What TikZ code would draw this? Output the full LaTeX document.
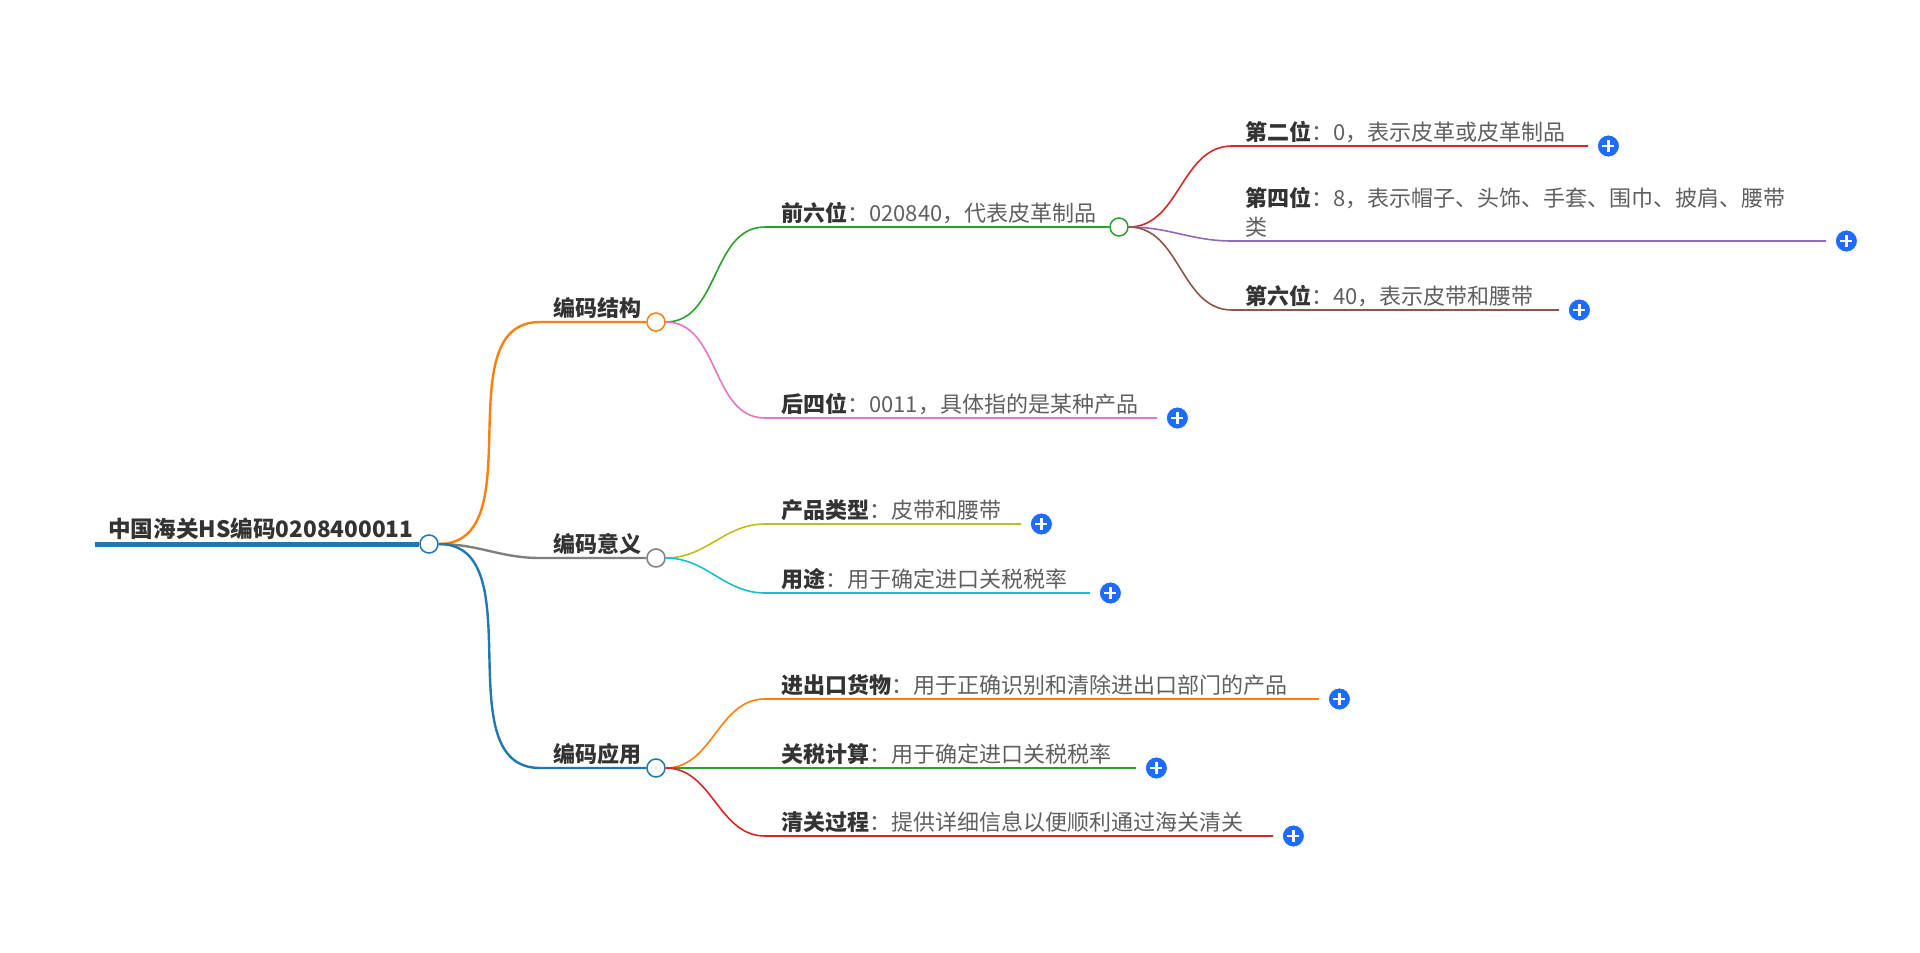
\documentclass[tikz,border=0pt]{standalone}
\usepackage{fontspec}
\setmainfont{Noto Sans CJK SC}
\usepackage{tikz}
\usetikzlibrary{positioning}
\definecolor{tblue}{HTML}{1F77B4}
\definecolor{torange}{HTML}{FF7F0E}
\definecolor{tgreen}{HTML}{2CA02C}
\definecolor{tred}{HTML}{D62728}
\definecolor{tpurple}{HTML}{9467BD}
\definecolor{tbrown}{HTML}{8C564B}
\definecolor{tpink}{HTML}{E377C2}
\definecolor{tgrey}{HTML}{7F7F7F}
\definecolor{tolive}{HTML}{BCBD22}
\definecolor{tcyan}{HTML}{17BECF}
\definecolor{btnblue}{HTML}{1E6BFF}
\definecolor{txtdark}{HTML}{333333}
\definecolor{txtlight}{HTML}{5F5F5F}
\newcommand{\keytxt}[1]{{\bfseries\color{txtdark}#1}}
\tikzset{
  hub/.style={circle, draw=#1, fill=white, line width=1.5pt, minimum size=18pt, inner sep=0pt},
  plusbtn/.style={circle, fill=btnblue, draw=white, line width=0.8pt, minimum size=22pt, inner sep=0pt,
    path picture={\draw[white, line width=2.2pt]
      ([xshift=-6pt]path picture bounding box.center) -- ([xshift=6pt]path picture bounding box.center)
      ([yshift=-6pt]path picture bounding box.center) -- ([yshift=6pt]path picture bounding box.center);}},
  head/.style={font=\fontsize{22}{26}\selectfont\bfseries, text=txtdark, inner sep=0pt, anchor=base west},
  leaf/.style={font=\fontsize{22}{29}\selectfont, text=txtlight, inner sep=0pt, anchor=base west, align=left},
  twig/.style={line width=1.6pt, draw=#1},
}

\begin{document}
\begin{tikzpicture}[x=1pt, y=-1pt]
    \path[use as bounding box] (0,0) rectangle (1920,953);

    % root
    \coordinate (root-in) at (95,544);
    \node[hub=tblue] at (429,544) (root) {};
    \node[head, font=\fontsize{22.6}{27}\selectfont\bfseries] at (108,537) (root-txt) {中国海关HS编码0208400011};
    \draw[line width=5pt, tblue] (root-in) -- (root.west);

    % level 1
    \node[hub=torange] at (656,322) (struct) {};
    \node[hub=tgrey]   at (656,558) (mean) {};
    \node[hub=tblue]   at (656,768) (app) {};
    \coordinate (struct-in) at (540,322);
    \coordinate (mean-in)   at (540,558);
    \coordinate (app-in)    at (540,768);
    \node[head] at (553,316) (struct-txt) {编码结构};
    \node[head] at (553,552) (mean-txt)   {编码意义};
    \node[head] at (553,762) (app-txt)    {编码应用};

    \draw[line width=2.4pt, torange] (root.east) to[out=0, in=180] (struct-in) -- (struct.west);
    \draw[line width=2.4pt, tgrey]   (root.east) to[out=0, in=180] (mean-in) -- (mean.west);
    \draw[line width=2.4pt, tblue]   (root.east) to[out=0, in=180] (app-in) -- (app.west);

    % level 2: 编码结构
    \node[hub=tgreen] at (1119,227) (front6) {};
    \coordinate (front6-in) at (765,227);
    \node[leaf] at (781,221) (front6-txt) {\keytxt{前六位}：020840，代表皮革制品};
    \draw[twig=tgreen] (struct.east) to[out=0, in=180] (front6-in) -- (front6.west);

    \coordinate (back4-in)  at (765,418);
    \coordinate (back4-out) at (1157,418);
    \node[plusbtn, right=9pt of back4-out] (back4-plus) {};
    \node[leaf] at (781,412) (back4-txt) {\keytxt{后四位}：0011，具体指的是某种产品};
    \draw[twig=tpink] (struct.east) to[out=0, in=180] (back4-in) -- (back4-out);

    % level 3: 前六位
    \coordinate (pos2-in)  at (1232,146);
    \coordinate (pos2-out) at (1588,146);
    \node[plusbtn, right=9pt of pos2-out] (pos2-plus) {};
    \node[leaf] at (1245,140) (pos2-txt) {\keytxt{第二位}：0，表示皮革或皮革制品};
    \draw[twig=tred] (front6.east) to[out=0, in=180] (pos2-in) -- (pos2-out);

    \coordinate (pos4-in)  at (1232,241);
    \coordinate (pos4-out) at (1826,241);
    \node[plusbtn, right=9pt of pos4-out] (pos4-plus) {};
    \node[leaf] at (1245,235) (pos4-txt) {\keytxt{第四位}：8，表示帽子、头饰、手套、围巾、披肩、腰带\\类};
    \draw[twig=tpurple] (front6.east) to[out=0, in=180] (pos4-in) -- (pos4-out);

    \coordinate (pos6-in)  at (1232,310);
    \coordinate (pos6-out) at (1559,310);
    \node[plusbtn, right=9pt of pos6-out] (pos6-plus) {};
    \node[leaf] at (1245,304) (pos6-txt) {\keytxt{第六位}：40，表示皮带和腰带};
    \draw[twig=tbrown] (front6.east) to[out=0, in=180] (pos6-in) -- (pos6-out);

    % level 2: 编码意义
    \coordinate (ptype-in)  at (765,524);
    \coordinate (ptype-out) at (1021,524);
    \node[plusbtn, right=9pt of ptype-out] (ptype-plus) {};
    \node[leaf] at (781,518) (ptype-txt) {\keytxt{产品类型}：皮带和腰带};
    \draw[twig=tolive] (mean.east) to[out=0, in=180] (ptype-in) -- (ptype-out);

    \coordinate (usage-in)  at (765,593);
    \coordinate (usage-out) at (1090,593);
    \node[plusbtn, right=9pt of usage-out] (usage-plus) {};
    \node[leaf] at (781,587) (usage-txt) {\keytxt{用途}：用于确定进口关税税率};
    \draw[twig=tcyan] (mean.east) to[out=0, in=180] (usage-in) -- (usage-out);

    % level 2: 编码应用
    \coordinate (trade-in)  at (765,699);
    \coordinate (trade-out) at (1319,699);
    \node[plusbtn, right=9pt of trade-out] (trade-plus) {};
    \node[leaf] at (781,693) (trade-txt) {\keytxt{进出口货物}：用于正确识别和清除进出口部门的产品};
    \draw[twig=torange] (app.east) to[out=0, in=180] (trade-in) -- (trade-out);

    \coordinate (tariff-in)  at (765,768);
    \coordinate (tariff-out) at (1136,768);
    \node[plusbtn, right=9pt of tariff-out] (tariff-plus) {};
    \node[leaf] at (781,762) (tariff-txt) {\keytxt{关税计算}：用于确定进口关税税率};
    \draw[twig=tgreen] (app.east) to[out=0, in=180] (tariff-in) -- (tariff-out);

    \coordinate (clear-in)  at (765,836);
    \coordinate (clear-out) at (1273,836);
    \node[plusbtn, right=9pt of clear-out] (clear-plus) {};
    \node[leaf] at (781,830) (clear-txt) {\keytxt{清关过程}：提供详细信息以便顺利通过海关清关};
    \draw[twig=tred] (app.east) to[out=0, in=180] (clear-in) -- (clear-out);
\end{tikzpicture}
\end{document}
